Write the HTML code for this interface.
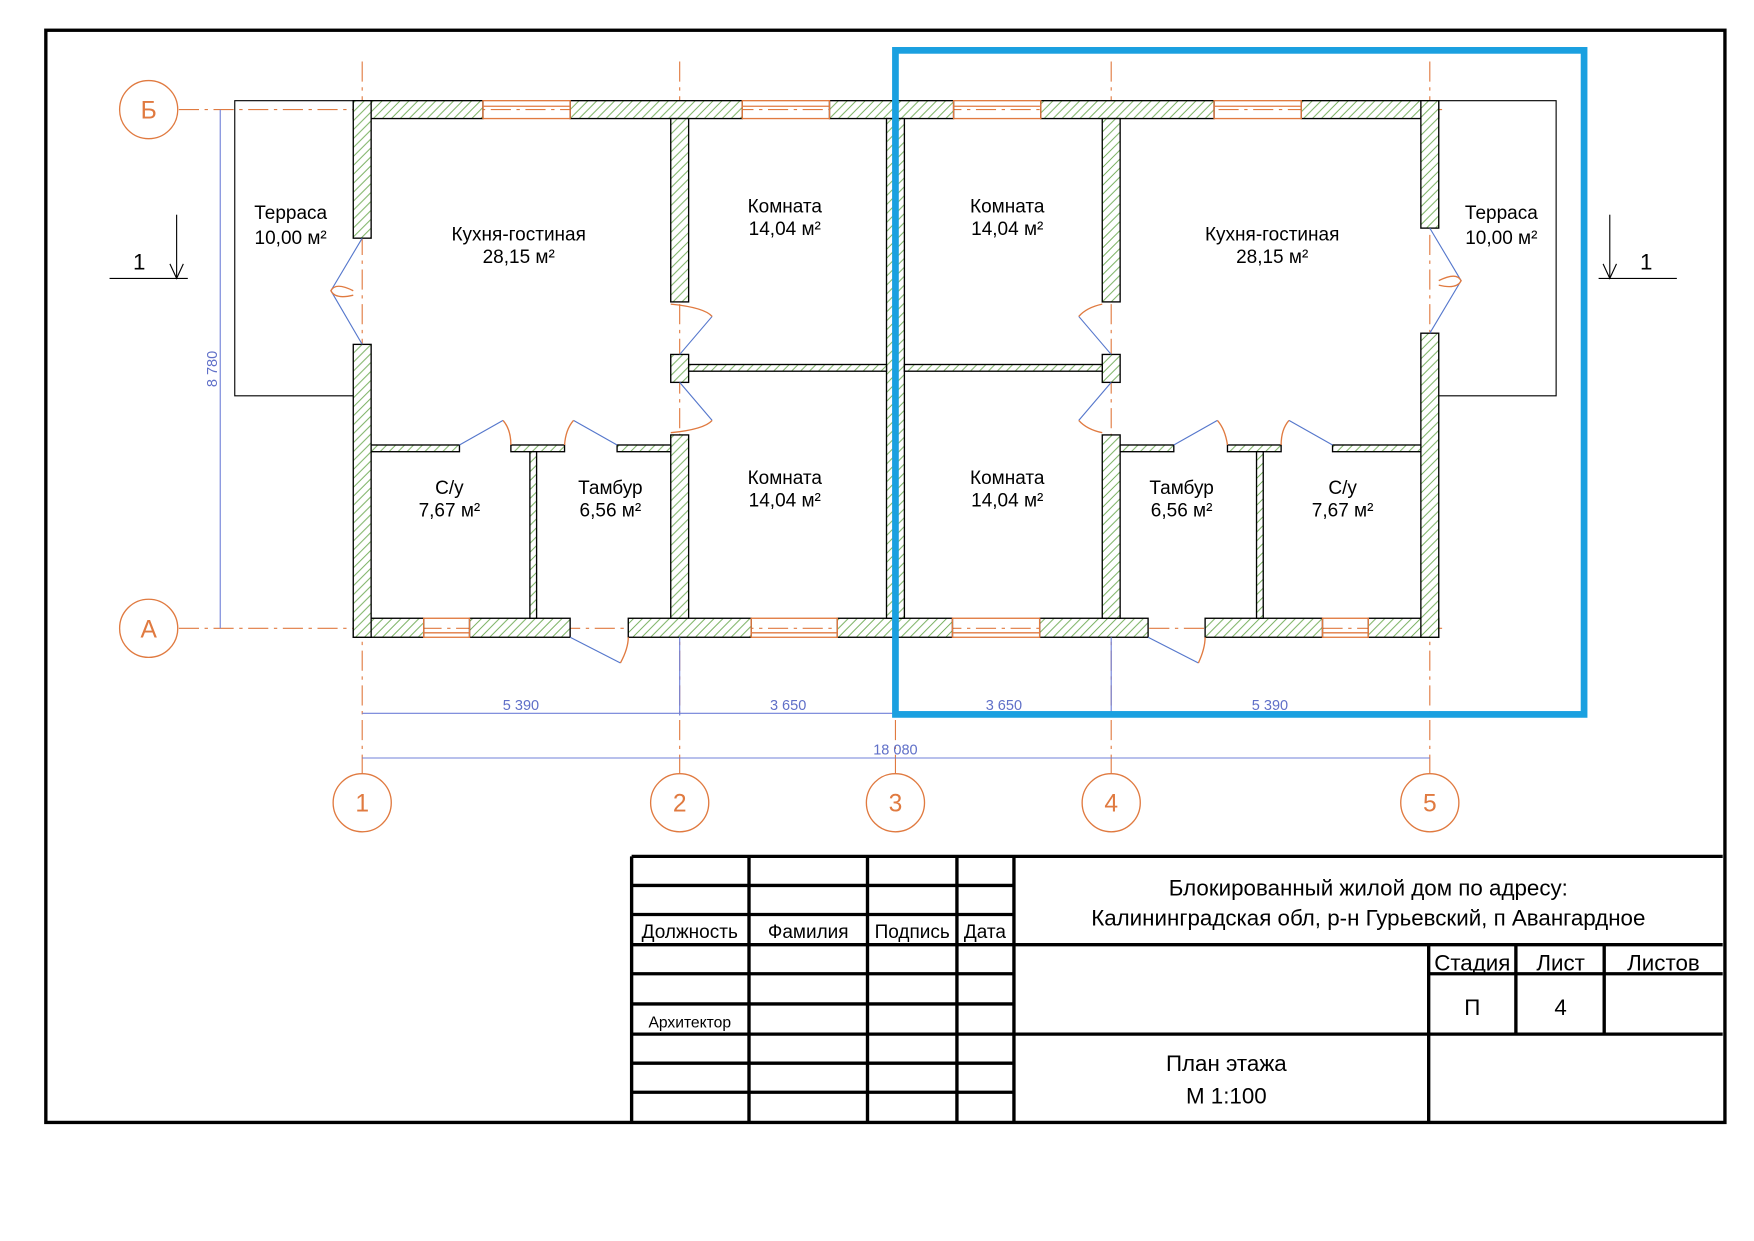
<!DOCTYPE html>
<html><head><meta charset="utf-8"><style>
html,body{margin:0;padding:0;background:#fff;}
svg{display:block;}
text{font-family:"Liberation Sans",sans-serif;}
</style></head><body>
<svg width="1754" height="1241" viewBox="0 0 1569 1110" xmlns="http://www.w3.org/2000/svg">
<defs>
<pattern id="h" patternUnits="userSpaceOnUse" width="8" height="8">
<rect width="8" height="8" fill="#fff"/>
<path d="M-2,10 L10,-2 M-2,2 L2,-2 M6,10 L10,6" stroke="#6aa84f" stroke-width="0.8"/>
</pattern>
</defs>
<rect width="1569" height="1110" fill="#fff"/>
<!-- frame -->
<rect x="41" y="27" width="1502" height="977" fill="none" stroke="#000" stroke-width="3"/>

<!-- terraces -->
<g fill="none" stroke="#000" stroke-width="1">
<polyline points="316,90 210,90 210,354 316,354"/>
<polyline points="1287,90 1392,90 1392,354 1287,354"/>
</g>

<!-- axes -->
<g stroke="#e07a40" stroke-width="1" stroke-dasharray="18,5,3,5" fill="none">
<line x1="324" y1="55" x2="324" y2="692"/>
<line x1="608" y1="55" x2="608" y2="692"/>
<line x1="801" y1="55" x2="801" y2="692"/>
<line x1="994" y1="55" x2="994" y2="692"/>
<line x1="1279" y1="55" x2="1279" y2="692"/>
<line x1="160" y1="98" x2="1290" y2="98"/>
<line x1="160" y1="562" x2="1290" y2="562"/>
</g>
<g stroke="#e07a40" stroke-width="1.2" fill="#fff">
<circle cx="133" cy="98" r="26"/><circle cx="133" cy="562" r="26"/>
<circle cx="324" cy="718" r="26"/><circle cx="608" cy="718" r="26"/><circle cx="801" cy="718" r="26"/><circle cx="994" cy="718" r="26"/><circle cx="1279" cy="718" r="26"/>
</g>
<g fill="#e07a40" font-size="22" text-anchor="middle">
<text x="133" y="106">Б</text><text x="133" y="570">А</text>
<text x="324" y="726">1</text><text x="608" y="726">2</text><text x="801" y="726">3</text><text x="994" y="726">4</text><text x="1279" y="726">5</text>
</g>

<!-- walls -->
<g fill="url(#h)" stroke="#000" stroke-width="1.2">
<!-- top -->
<rect x="316" y="90" width="116" height="16"/><rect x="510" y="90" width="154" height="16"/><rect x="742" y="90" width="111" height="16"/><rect x="931" y="90" width="155" height="16"/><rect x="1164" y="90" width="123" height="16"/>
<!-- bottom -->
<rect x="316" y="553" width="63" height="17"/><rect x="420" y="553" width="90" height="17"/><rect x="562" y="553" width="110" height="17"/><rect x="749" y="553" width="103" height="17"/><rect x="930" y="553" width="97" height="17"/><rect x="1078" y="553" width="105" height="17"/><rect x="1224" y="553" width="63" height="17"/>
<!-- left/right -->
<rect x="316" y="90" width="16" height="123"/><rect x="316" y="308" width="16" height="262"/>
<rect x="1271" y="90" width="16" height="114"/><rect x="1271" y="298" width="16" height="272"/>
<!-- axis2 -->
<rect x="600" y="106" width="16" height="164"/><rect x="600" y="317" width="16" height="25"/><rect x="600" y="389" width="16" height="164"/>
<!-- axis4 -->
<rect x="986" y="106" width="16" height="164"/><rect x="986" y="317" width="16" height="25"/><rect x="986" y="389" width="16" height="164"/>
<!-- axis3 -->
<rect x="793" y="106" width="8" height="447"/><rect x="801" y="106" width="8" height="447"/>
<!-- room partitions -->
<rect x="616" y="326" width="177" height="6"/><rect x="809" y="326" width="177" height="6"/>
<!-- wc partitions -->
<rect x="332" y="398" width="79" height="6"/><rect x="457" y="398" width="48" height="6"/><rect x="552" y="398" width="48" height="6"/>
<rect x="474" y="404" width="6" height="149"/>
<rect x="1002" y="398" width="48" height="6"/><rect x="1098" y="398" width="48" height="6"/><rect x="1192" y="398" width="79" height="6"/>
<rect x="1124" y="404" width="6" height="149"/>
</g>

<!-- windows -->
<g stroke="#e07a40" stroke-width="1.2" fill="none">
<rect x="432" y="90" width="78" height="16"/><line x1="432" y1="95" x2="510" y2="95"/>
<rect x="664" y="90" width="78" height="16"/><line x1="664" y1="95" x2="742" y2="95"/>
<rect x="853" y="90" width="78" height="16"/><line x1="853" y1="95" x2="931" y2="95"/>
<rect x="1086" y="90" width="78" height="16"/><line x1="1086" y1="95" x2="1164" y2="95"/>
<rect x="379" y="553" width="41" height="17"/><line x1="379" y1="566" x2="420" y2="566"/>
<rect x="672" y="553" width="77" height="17"/><line x1="672" y1="566" x2="749" y2="566"/>
<rect x="852" y="553" width="78" height="17"/><line x1="852" y1="566" x2="930" y2="566"/>
<rect x="1183" y="553" width="41" height="17"/><line x1="1183" y1="566" x2="1224" y2="566"/>
</g>

<!-- doors -->
<g stroke="#5577cc" stroke-width="1" fill="none">
<polyline points="324,213 296,260 324,308"/>
<polyline points="1279,204 1307,251 1279,298"/>
<line x1="608" y1="317" x2="637" y2="283"/><line x1="608" y1="342" x2="637" y2="376"/>
<line x1="994" y1="317" x2="965" y2="283"/><line x1="994" y1="342" x2="965" y2="376"/>
<line x1="411" y1="398" x2="450" y2="376"/><line x1="552" y1="398" x2="513" y2="376"/>
<line x1="1050" y1="398" x2="1089" y2="376"/><line x1="1192" y1="398" x2="1153" y2="376"/>
<line x1="510" y1="570" x2="555" y2="593"/><line x1="1027" y1="570" x2="1072" y2="593"/>
</g>
<g stroke="#e07a40" stroke-width="1.2" fill="none">
<path d="M316,260 Q300,252 296,260 Q300,268 316,264"/>
<path d="M1287,251 Q1303,243 1307,251 Q1303,259 1287,255"/>
<path d="M600,272 Q630,275 637,283"/><path d="M600,387 Q630,384 637,376"/>
<path d="M986,272 Q972,275 965,283"/><path d="M986,387 Q972,384 965,376"/>
<path d="M450,376 Q457,384 457,398"/><path d="M513,376 Q506,384 505,398"/>
<path d="M1089,376 Q1096,384 1098,398"/><path d="M1153,376 Q1146,384 1146,398"/>
<path d="M555,593 Q562,580 562,570"/><path d="M1072,593 Q1078,580 1078,570"/>
</g>

<!-- dimensions -->
<g stroke="#7080d8" stroke-width="1" fill="none">
<line x1="197" y1="98" x2="197" y2="562"/>
<line x1="324" y1="638" x2="1279" y2="638"/>
<line x1="324" y1="678" x2="1279" y2="678"/>
<line x1="608" y1="570" x2="608" y2="640"/>
<line x1="994" y1="570" x2="994" y2="640"/>
</g>
<g fill="#6070c8" font-size="13" text-anchor="middle">
<text x="466" y="635">5 390</text><text x="705" y="635">3 650</text><text x="898" y="635">3 650</text><text x="1136" y="635">5 390</text>
<text x="801" y="675">18 080</text>
<text transform="translate(194,330) rotate(-90)">8 780</text>
</g>

<!-- section marks -->
<g stroke="#000" stroke-width="1" fill="none">
<line x1="98" y1="249" x2="168" y2="249"/><line x1="158" y1="192" x2="158" y2="249"/><polyline points="152,236 158,249 164,236"/>
<line x1="1430" y1="249" x2="1500" y2="249"/><line x1="1440" y1="192" x2="1440" y2="249"/><polyline points="1434,236 1440,249 1446,236"/>
</g>
<g font-size="20" fill="#000"><text x="119" y="241">1</text><text x="1467" y="241">1</text></g>

<!-- room labels -->
<g font-size="17" fill="#000" text-anchor="middle">
<text x="260" y="196">Терраса</text><text x="260" y="218">10,00 м²</text>
<text x="464" y="215">Кухня-гостиная</text><text x="464" y="235">28,15 м²</text>
<text x="702" y="190">Комната</text><text x="702" y="210">14,04 м²</text>
<text x="901" y="190">Комната</text><text x="901" y="210">14,04 м²</text>
<text x="1138" y="215">Кухня-гостиная</text><text x="1138" y="235">28,15 м²</text>
<text x="1343" y="196">Терраса</text><text x="1343" y="218">10,00 м²</text>
<text x="402" y="442">С/у</text><text x="402" y="462">7,67 м²</text>
<text x="546" y="442">Тамбур</text><text x="546" y="462">6,56 м²</text>
<text x="702" y="433">Комната</text><text x="702" y="453">14,04 м²</text>
<text x="901" y="433">Комната</text><text x="901" y="453">14,04 м²</text>
<text x="1057" y="442">Тамбур</text><text x="1057" y="462">6,56 м²</text>
<text x="1201" y="442">С/у</text><text x="1201" y="462">7,67 м²</text>
</g>

<!-- blue highlight -->
<rect x="801" y="45" width="616" height="594" fill="none" stroke="#1aa0e0" stroke-width="6"/>

<!-- title block -->
<g stroke="#000" stroke-width="3" fill="none">
<line x1="565" y1="766" x2="1541" y2="766"/>
<line x1="565" y1="766" x2="565" y2="1003"/>
<line x1="670" y1="766" x2="670" y2="1003"/>
<line x1="776" y1="766" x2="776" y2="1003"/>
<line x1="856" y1="766" x2="856" y2="1003"/>
<line x1="907" y1="766" x2="907" y2="1003"/>
<line x1="565" y1="792" x2="907" y2="792"/>
<line x1="565" y1="818" x2="907" y2="818"/>
<line x1="565" y1="845" x2="1541" y2="845"/>
<line x1="565" y1="871" x2="907" y2="871"/>
<line x1="565" y1="898" x2="907" y2="898"/>
<line x1="565" y1="925" x2="1541" y2="925"/>
<line x1="565" y1="951" x2="907" y2="951"/>
<line x1="565" y1="977" x2="907" y2="977"/>
<line x1="1278" y1="845" x2="1278" y2="1003"/>
<line x1="1356" y1="845" x2="1356" y2="925"/>
<line x1="1435" y1="845" x2="1435" y2="925"/>
<line x1="1278" y1="871" x2="1541" y2="871"/>
</g>
<g font-size="17" fill="#000" text-anchor="middle">
<text x="617" y="839">Должность</text><text x="723" y="839">Фамилия</text><text x="816" y="839">Подпись</text><text x="881" y="839">Дата</text>
<text x="617" y="919" font-size="14">Архитектор</text>
<text x="1224" y="801" font-size="20">Блокированный жилой дом по адресу:</text>
<text x="1224" y="828" font-size="20">Калининградская обл, р-н Гурьевский, п Авангардное</text>
<text x="1317" y="868" font-size="20">Стадия</text><text x="1396" y="868" font-size="20">Лист</text><text x="1488" y="868" font-size="20">Листов</text>
<text x="1317" y="908" font-size="20">П</text><text x="1396" y="908" font-size="20">4</text>
<text x="1097" y="958" font-size="20">План этажа</text><text x="1097" y="987" font-size="20">М 1:100</text>
</g>
</svg>
</body></html>
